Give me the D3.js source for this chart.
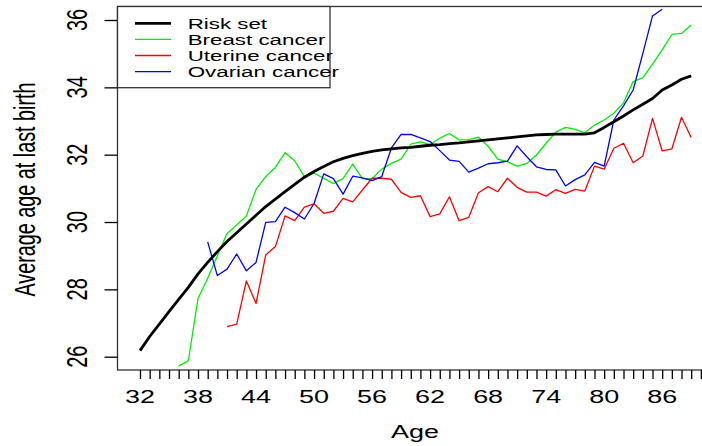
<!DOCTYPE html>
<html><head><meta charset="utf-8">
<script src="https://cdn.jsdelivr.net/npm/d3@7"></script>
<style>html,body{margin:0;padding:0;background:#fff;}svg{display:block;}</style>
</head><body>
<script>
const riskAges = d3.range(32, 90);
const riskValues = [26.18,26.60,26.97,27.34,27.70,28.06,28.46,28.80,29.12,29.42,29.68,29.94,30.20,30.46,30.68,30.90,31.12,31.33,31.50,31.65,31.79,31.89,31.97,32.04,32.10,32.14,32.17,32.20,32.22,32.25,32.28,32.30,32.33,32.35,32.38,32.41,32.44,32.47,32.50,32.53,32.56,32.59,32.60,32.61,32.61,32.61,32.61,32.65,32.81,32.98,33.15,33.33,33.50,33.67,33.92,34.07,34.24,34.34];
const breastAges = d3.range(36, 90);
const breastValues = [25.72,25.88,27.73,28.33,29.00,29.66,29.91,30.18,30.97,31.35,31.62,32.06,31.82,31.35,31.45,31.30,31.14,31.29,31.72,31.29,31.29,31.57,31.74,31.87,32.31,32.38,32.30,32.49,32.63,32.44,32.45,32.52,32.25,31.87,31.79,31.66,31.74,31.99,32.34,32.67,32.81,32.75,32.65,32.88,33.03,33.23,33.54,34.17,34.29,34.69,35.11,35.57,35.60,35.85];
const uterineAges = d3.range(41, 90);
const uterineValues = [26.89,26.97,28.25,27.58,29.02,29.27,30.18,30.04,30.44,30.54,30.26,30.32,30.70,30.60,30.95,31.30,31.30,31.27,30.88,30.73,30.78,30.16,30.24,30.75,30.04,30.14,30.87,31.05,30.90,31.30,31.03,30.89,30.89,30.77,30.96,30.85,30.97,30.92,31.66,31.57,32.19,32.34,31.76,31.96,33.08,32.11,32.17,33.11,32.51];
const ovarianAges = d3.range(39, 87);
const ovarianValues = [29.41,28.41,28.60,29.05,28.55,28.80,29.99,30.01,30.44,30.28,30.09,30.55,31.43,31.29,30.83,31.36,31.31,31.23,31.35,32.20,32.60,32.60,32.50,32.39,32.12,31.84,31.80,31.48,31.60,31.73,31.76,31.81,32.26,31.94,31.64,31.56,31.55,31.07,31.26,31.40,31.77,31.66,33.03,33.45,33.92,35.01,36.12,36.32];
const xTickLabels = [32,38,44,50,56,62,68,74,80,86];
const yTickLabels = [26,28,30,32,34,36];
const seriesNames = ["Risk set","Breast cancer","Uterine cancer","Ovarian cancer"];
const seriesColors = ["#000000","#00ee00","#ff0000","#0000ff"];
const seriesWidths = [2.8,1.3,1.3,1.3];

const W = 702, H = 446;
const FONT = "'Liberation Sans', Arial, Helvetica, sans-serif";
const SX = 1.45;
const svg = d3.select("body").append("svg").attr("width", W).attr("height", H);

const x = d3.scaleLinear().domain([32, 90]).range([140, 140 + 58 * 9.67]);
const y = d3.scaleLinear().domain([26, 36]).range([356.7, 20]);
const plot = {l: 117.5, t: 6.5, r: 720, b: 370};

function txt(px, py, s, fs, anchor, rot) {
  svg.append("text")
    .attr("transform", `translate(${px},${py}) scale(${SX},1)` + (rot ? " rotate(-90)" : ""))
    .attr("text-anchor", anchor)
    .attr("font-family", FONT)
    .attr("font-size", fs)
    .attr("fill", "#000")
    .text(s);
}

svg.append("defs").append("clipPath").attr("id", "clip")
  .append("rect").attr("x", plot.l).attr("y", plot.t).attr("width", plot.r - plot.l).attr("height", plot.b - plot.t);

// series
const sets = [
  [riskAges, riskValues],
  [breastAges, breastValues],
  [uterineAges, uterineValues],
  [ovarianAges, ovarianValues]
];
const line = d3.line().x(d => x(d[0])).y(d => y(d[1]));
const g = svg.append("g").attr("clip-path", "url(#clip)");
// draw colored first then black? keep order: black first like R
[1,2,3,0].forEach(i => {
  const [ages, vals] = sets[i];
  g.append("path").datum(ages.map((a, k) => [a, vals[k]]))
    .attr("d", line).attr("fill", "none")
    .attr("stroke", seriesColors[i]).attr("stroke-width", seriesWidths[i])
    .attr("stroke-linejoin", "round");
});

// box
svg.append("rect").attr("x", plot.l).attr("y", plot.t).attr("width", plot.r - plot.l).attr("height", plot.b - plot.t)
  .attr("fill", "none").attr("stroke", "#333").attr("stroke-width", 1.3);

// x axis ticks
const xAxis = d3.axisBottom(x).tickValues(d3.range(32, 91)).tickSize(9).tickFormat("");
const gx = svg.append("g").attr("transform", `translate(0,${plot.b})`).call(xAxis);
gx.select(".domain").remove();
gx.selectAll(".tick line").attr("stroke", "#000").attr("stroke-width", 1.3);
xTickLabels.forEach(v => txt(x(v), 403.3, String(v), 18.6, "middle", false));

// y axis ticks
const yAxis = d3.axisLeft(y).tickValues(yTickLabels).tickSize(13).tickFormat("");
const gy = svg.append("g").attr("transform", `translate(${plot.l},0)`).call(yAxis);
gy.select(".domain").remove();
gy.selectAll(".tick line").attr("stroke", "#000").attr("stroke-width", 1.3);
yTickLabels.forEach(v => txt(87.3, y(v), String(v), 20, "middle", true));

// axis titles
txt(415, 438.3, "Age", 18.6, "middle", false);
txt(35, 189.5, "Average age at last birth", 19.8, "middle", true);

// legend
svg.append("rect").attr("x", plot.l).attr("y", plot.t).attr("width", 330 - plot.l).attr("height", 87.7 - plot.t)
  .attr("fill", "#fff").attr("stroke", "#333").attr("stroke-width", 1.3);
seriesNames.forEach((n, i) => {
  const ry = 23.3 + i * 16.1;
  svg.append("line").attr("x1", 135).attr("x2", 171).attr("y1", ry).attr("y2", ry)
    .attr("stroke", seriesColors[i]).attr("stroke-width", i === 0 ? 2.8 : 1.3);
  txt(187.7, ry + 5.5, n, 15.4, "start", false);
});
</script>
</body></html>
